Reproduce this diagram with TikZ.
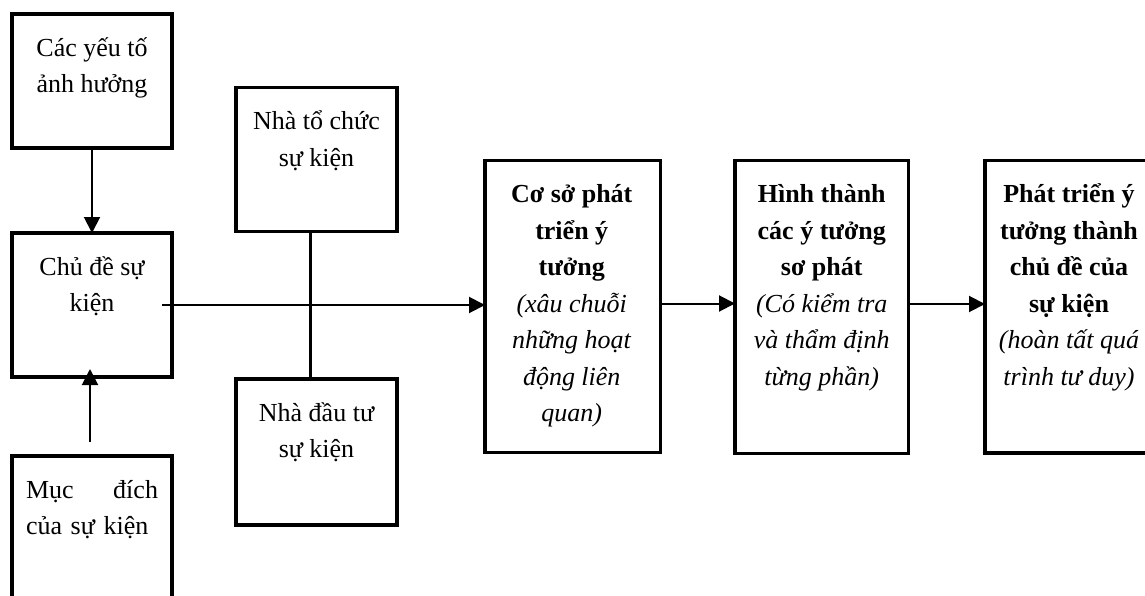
\documentclass[tikz,border=0pt]{standalone}
\usepackage{fontspec}
\setmainfont{Liberation Serif}
\usetikzlibrary{arrows.meta}
% first-line strut: fixes the first baseline 28pt below the top of a text block
\newcommand{\lnstart}{\rule{0pt}{28pt}}
\begin{document}
\begin{tikzpicture}[x=1pt,y=-1pt,
  box/.style={draw, line width=3.6pt, inner sep=0pt, outer sep=0pt},
  txt/.style={anchor=north, inner sep=0pt, align=center,
              font=\fontsize{26}{36.5}\selectfont},
  link/.style={line width=2pt, -{Triangle[length=16pt,width=16pt]}},
  bar/.style={line width=3.6pt},
]
\useasboundingbox (0,0) rectangle (1145,596);

% boxes
\node[box, minimum width=160pt, minimum height=134pt] (A) at (92,81) {};
\node[box, minimum width=160pt, minimum height=144pt] (B) at (92,305) {};
\node[box, minimum width=160pt, minimum height=184pt] (C) at (92,548) {};
\node[box, minimum width=161pt, minimum height=144pt] (D) at (316.5,159.5) {};
\node[box, minimum width=161pt, minimum height=146pt] (E) at (316.5,452) {};
\node[box, minimum width=175.5pt, minimum height=292pt] (F) at (572.75,306.5) {};
\node[box, minimum width=173.5pt, minimum height=293pt] (G) at (821.75,307) {};
\node[box, minimum width=175pt, minimum height=292.5pt] (H) at (1072.5,306.75) {};

% texts
\node[txt] (At) at ([yshift=-14pt]A.north) {\lnstart Các yếu tố\\ảnh hưởng};
\node[txt] (Bt) at ([yshift=-14pt]B.north) {\lnstart Chủ đề sự\\kiện};
\node[txt, text width=132pt, align=left] (Ct) at ([yshift=-14pt]C.north)
  {\lnstart Mục \hfill đích\\của sự kiện};
\node[txt] (Dt) at ([yshift=-14pt]D.north) {\lnstart Nhà tổ chức\\sự kiện};
\node[txt] (Et) at ([yshift=-14pt]E.north) {\lnstart Nhà đầu tư\\sự kiện};
\node[txt] (Ft) at ([xshift=-1pt,yshift=-14pt]F.north)
  {\lnstart\textbf{Cơ sở phát}\\\textbf{triển ý}\\\textbf{tưởng}\\
   \textit{(xâu chuỗi}\\\textit{những hoạt}\\\textit{động liên}\\\textit{quan)}};
\node[txt] (Gt) at ([yshift=-14pt]G.north)
  {\lnstart\textbf{Hình thành}\\\textbf{các ý tưởng}\\\textbf{sơ phát}\\
   \textit{(Có kiểm tra}\\\textit{và thẩm định}\\\textit{từng phần)}};
\node[txt] (Ht) at ([xshift=-3.5pt,yshift=-14pt]H.north)
  {\lnstart\textbf{Phát triển ý}\\\textbf{tưởng thành}\\\textbf{chủ đề của}\\
   \textbf{sự kiện}\\\textit{(hoàn tất quá}\\\textit{trình tư duy)}};

% connectors
\draw[link] (A.south) -- (B.north);
\draw[link, shorten <=14pt, shorten >=-8pt] ([xshift=-2pt]C.north) -- ([xshift=-2pt]B.south);
\draw[link, shorten <=-10pt] (B.east) -- (B.east -| F.west);
\draw[bar] ([xshift=-6pt]D.south) -- ([xshift=-6pt]E.north);
\draw[link] ([yshift=3pt]F.east) -- ([yshift=3pt]F.east -| G.west);
\draw[link] ([yshift=3pt]G.east) -- ([yshift=3pt]G.east -| H.west);
\end{tikzpicture}
\end{document}
